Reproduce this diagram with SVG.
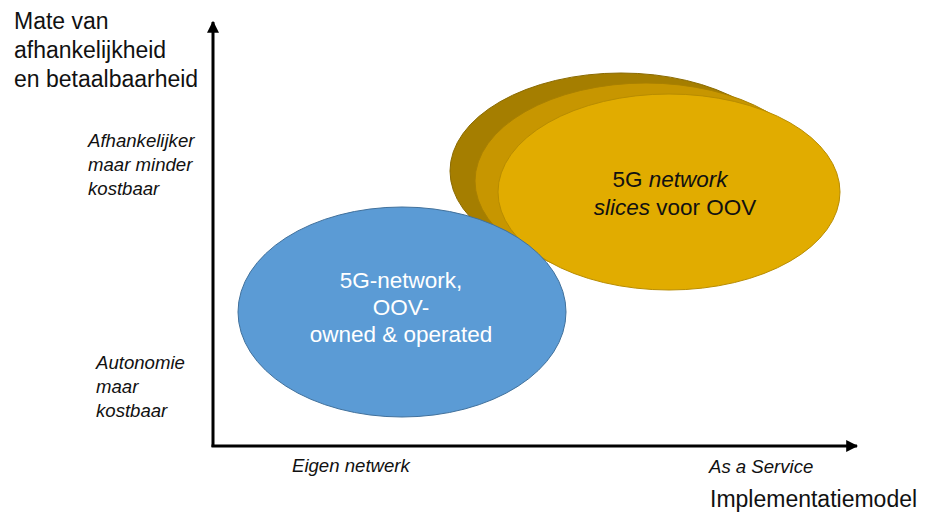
<svg xmlns="http://www.w3.org/2000/svg" width="930" height="518" viewBox="0 0 930 518">
  <defs>
    <marker id="arrow" viewBox="0 0 10 10" refX="9" refY="5" markerWidth="4" markerHeight="4" markerUnits="strokeWidth" orient="auto">
      <path d="M0,0 L10,5 L0,10 z" fill="#000"/>
    </marker>
    <style>
      .title { font-family: "Liberation Sans", Arial, sans-serif; font-size: 23px; fill: #111; }
      .tick { font-family: "Liberation Sans", Arial, sans-serif; font-size: 18.6px; font-style: italic; fill: #111; }
      .inner { font-family: "Liberation Sans", Arial, sans-serif; font-size: 22.5px; text-anchor: middle; }
      .axis { stroke: #000; stroke-width: 3; fill: none; }
    </style>
  </defs>
  <rect width="930" height="518" fill="#fff"/>

  <!-- axes -->
  <g id="axes">
    <path class="axis" d="M213,447 L213,22" marker-end="url(#arrow)"/>
    <path class="axis" d="M211.5,446 L857,446" marker-end="url(#arrow)"/>
  </g>

  <!-- axis titles -->
  <g id="y-title">
    <text class="title" x="14" y="29">Mate van</text>
    <text class="title" x="14" y="58">afhankelijkheid</text>
    <text class="title" x="14" y="87">en betaalbaarheid</text>
  </g>
  <g id="x-title">
    <text class="title" x="710" y="507">Implementatiemodel</text>
  </g>

  <!-- axis value labels -->
  <g id="y-high">
    <text class="tick" x="88" y="147">Afhankelijker</text>
    <text class="tick" x="88" y="171">maar minder</text>
    <text class="tick" x="88" y="195">kostbaar</text>
  </g>
  <g id="y-low">
    <text class="tick" x="96" y="369">Autonomie</text>
    <text class="tick" x="96" y="393">maar</text>
    <text class="tick" x="96" y="417">kostbaar</text>
  </g>
  <g id="x-low">
    <text class="tick" x="292" y="472">Eigen netwerk</text>
  </g>
  <g id="x-high">
    <text class="tick" x="709" y="473">As a Service</text>
  </g>

  <!-- stacked network slices -->
  <g id="slices">
    <ellipse cx="621" cy="171" rx="171" ry="98" fill="#A57E00" stroke="#8A6A00" stroke-width="1"/>
    <ellipse cx="646" cy="181" rx="171" ry="98" fill="#C79600" stroke="#A98000" stroke-width="1"/>
    <ellipse cx="669" cy="192" rx="171" ry="98" fill="#E1AC00" stroke="#B88C00" stroke-width="1"/>
    <text class="inner" x="670" y="187" fill="#111">5G <tspan font-style="italic">network</tspan></text>
    <text class="inner" x="675" y="215" fill="#111"><tspan font-style="italic">slices</tspan> voor OOV</text>
  </g>

  <!-- own network -->
  <g id="own-network">
    <ellipse cx="402" cy="312" rx="164" ry="105" fill="#5B9BD5" stroke="#41719C" stroke-width="1"/>
    <text class="inner" x="401" y="288" fill="#fff">5G-network,</text>
    <text class="inner" x="401" y="315" fill="#fff">OOV-</text>
    <text class="inner" x="401" y="342" fill="#fff">owned &amp; operated</text>
  </g>
</svg>
